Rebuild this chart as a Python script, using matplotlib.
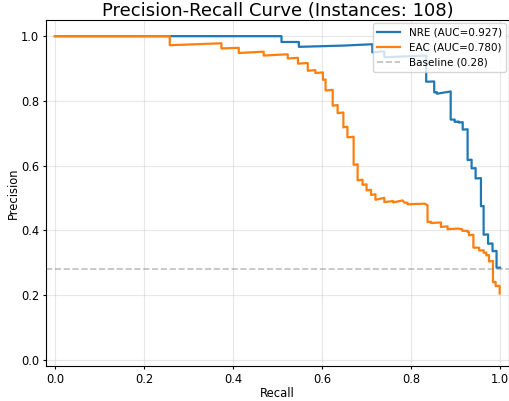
import numpy as np
import matplotlib
matplotlib.use('Agg')
import matplotlib.pyplot as plt

# values (recall, precision) for each curve
nre_recall = [0.0, 0.509, 0.509, 0.548, 0.548, 0.60, 0.65, 0.713, 0.713, 0.74,
              0.74, 0.80, 0.834, 0.834, 0.852, 0.852, 0.858, 0.858, 0.889, 0.889,
              0.898, 0.898, 0.907, 0.907, 0.916, 0.916, 0.927, 0.927, 0.936, 0.936,
              0.945, 0.945, 0.957, 0.957, 0.963, 0.963, 0.973, 0.973, 0.983, 0.983,
              0.992, 0.992, 1.0]
nre_precision = [1.0, 1.0, 0.982, 0.982, 0.967, 0.969, 0.971, 0.975, 0.950, 0.953,
                 0.935, 0.938, 0.940, 0.859, 0.860, 0.826, 0.827, 0.822, 0.829, 0.742,
                 0.742, 0.735, 0.736, 0.733, 0.734, 0.711, 0.712, 0.617, 0.618, 0.591,
                 0.592, 0.560, 0.561, 0.474, 0.475, 0.386, 0.387, 0.358, 0.359, 0.335,
                 0.336, 0.284, 0.284]

eac_recall = [0.0, 0.258, 0.258, 0.374, 0.374, 0.413, 0.413, 0.469, 0.469, 0.523,
              0.523, 0.546, 0.546, 0.568, 0.568, 0.585, 0.585, 0.602, 0.602, 0.608,
              0.608, 0.624, 0.624, 0.635, 0.635, 0.648, 0.648, 0.657, 0.657, 0.671,
              0.671, 0.680, 0.680, 0.691, 0.691, 0.700, 0.700, 0.710, 0.710, 0.720,
              0.720, 0.740, 0.740, 0.760, 0.760, 0.781, 0.785, 0.792, 0.792, 0.830,
              0.837, 0.837, 0.845, 0.845, 0.867, 0.867, 0.882, 0.882, 0.905, 0.915,
              0.915, 0.927, 0.927, 0.930, 0.930, 0.940, 0.940, 0.953, 0.953, 0.963,
              0.963, 0.969, 0.969, 0.975, 0.975, 0.984, 0.984, 0.990, 0.990, 0.999,
              0.999]
eac_precision = [1.0, 1.0, 0.972, 0.978, 0.962, 0.964, 0.948, 0.952, 0.940, 0.944,
                 0.931, 0.933, 0.915, 0.917, 0.893, 0.895, 0.886, 0.888, 0.865, 0.866,
                 0.832, 0.834, 0.785, 0.787, 0.762, 0.764, 0.718, 0.720, 0.687, 0.689,
                 0.602, 0.604, 0.554, 0.556, 0.540, 0.542, 0.523, 0.525, 0.509, 0.511,
                 0.494, 0.500, 0.487, 0.490, 0.486, 0.492, 0.485, 0.485, 0.480, 0.482,
                 0.477, 0.425, 0.426, 0.422, 0.424, 0.410, 0.412, 0.403, 0.405, 0.403,
                 0.398, 0.398, 0.394, 0.395, 0.384, 0.386, 0.346, 0.346, 0.337, 0.338,
                 0.330, 0.331, 0.322, 0.323, 0.303, 0.305, 0.239, 0.240, 0.227, 0.228,
                 0.204]

auc_nre = 0.927
auc_eac = 0.780
baseline = 0.28
n_instances = 108

small = 8.3

fig = plt.figure(figsize=(5.09, 4.01), dpi=100)
ax = fig.add_axes([46 / 509, 35 / 401, 463 / 509, 346 / 401])

ax.plot(nre_recall, nre_precision, color='#1f77b4', linewidth=1.6,
        label=f'NRE (AUC={auc_nre:.3f})')
ax.plot(eac_recall, eac_precision, color='#ff7f0e', linewidth=1.6,
        label=f'EAC (AUC={auc_eac:.3f})')
ax.axhline(baseline, color='gray', linestyle='--', alpha=0.5, linewidth=1.2,
           label=f'Baseline ({baseline:.2f})')

ax.set_xlim([-0.02, 1.02])
ax.set_ylim([-0.02, 1.05])
ax.set_xlabel('Recall', fontsize=small, labelpad=1)
ax.set_ylabel('Precision', fontsize=small, labelpad=1)
ax.set_title(f'Precision-Recall Curve (Instances: {n_instances})',
             fontsize=13, pad=2.5)
ax.tick_params(labelsize=small, length=2.5, pad=2.5)
ax.legend(loc='upper right', fontsize=7.5, borderaxespad=0.3,
          handlelength=2.2)
ax.grid(alpha=0.3)

fig.savefig('out.png', dpi=100)
